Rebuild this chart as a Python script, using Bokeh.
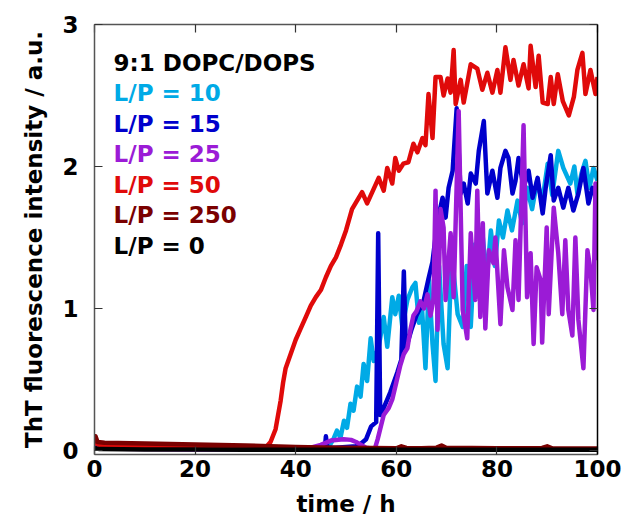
from bokeh.plotting import figure
from bokeh.models import LinearAxis, FixedTicker, Range1d
from bokeh.embed import file_html
from bokeh.resources import INLINE

# ---------------- data ----------------
x_ticks = [0, 20, 40, 60, 80, 100]
y_ticks = [0, 1, 2, 3]

legend_title = "9:1 DOPC/DOPS"
series_names = ["L/P = 10", "L/P = 15", "L/P = 25", "L/P = 50", "L/P = 250", "L/P = 0"]

t_lp10 = [0, 0.5, 5, 15, 25, 35, 42, 45, 46, 47, 47.5, 48.2, 48.9, 49.6, 50.2, 50.9, 51.5, 52.2, 52.9,
          53.5, 54.2, 54.9, 55.5, 56.5, 57.5, 58.2, 59.2, 59.8, 60.5, 61.2, 62.2, 63.2, 63.8, 64.5, 65.1,
          65.8, 66.5, 67.2, 67.8, 68.5, 69.4, 70.2, 71, 72.2, 73.2, 74, 74.8, 75.6, 76.4, 77.2, 78, 78.8,
          79.6, 80.4, 81.2, 82.1, 83, 84.1, 85, 86, 87, 88, 89, 90.1, 91, 92.2, 93.2, 94.6, 95.4, 96,
          96.8, 97.6, 98.4, 99.2, 100]
y_lp10 = [0.04, 0.02, 0.015, 0.012, 0.01, 0.01, 0.012, 0.015, 0.02, 0.05, 0.08, 0.14, 0.09, 0.21, 0.16,
          0.33, 0.28, 0.45, 0.38, 0.61, 0.49, 0.79, 0.63, 0.73, 0.94, 0.73, 1.08, 0.96, 1.09, 0.87, 1.06,
          1.15, 1.18, 0.9, 1.01, 0.58, 1.2, 0.75, 0.49, 1.3, 0.75, 0.58, 1.4, 0.96, 0.87, 1.3, 0.87, 1.45,
          1.1, 1.5, 1.2, 1.55, 1.3, 1.62, 1.5, 1.69, 1.55, 1.76, 1.6, 1.85, 1.7, 1.9, 1.75, 2.02, 1.8, 2.11,
          1.99, 1.88, 2.0, 1.81, 1.95, 2.04, 1.85, 1.99, 1.9]

t_lp15 = [0, 0.5, 10, 30, 44, 45.8, 46, 46.3, 48, 50, 52, 53, 54, 55, 56, 56.4, 56.8, 57.5, 58.8, 60.2,
          61, 61.5, 61.9, 63, 64, 65.4, 66.4, 67.2, 68.2, 69.2, 69.8, 70.4, 71.2, 72, 72.8, 73.4, 74.2,
          74.8, 75.8, 76.4, 77.4, 78.1, 79.1, 80.1, 80.7, 81.7, 82.3, 83.1, 83.7, 84.3, 85.3, 86.3, 87.1,
          88.1, 89.1, 89.7, 90.7, 91.3, 92.2, 93.2, 94.2, 95.2, 96.2, 97.2, 98.2, 99, 100]
y_lp15 = [0.03, 0.02, 0.015, 0.012, 0.012, 0.015, 0.1, 0.02, 0.02, 0.025, 0.03, 0.05, 0.08, 0.17, 0.2,
          1.53, 0.25, 0.3, 0.41, 0.55, 0.64, 1.26, 0.72, 0.85, 0.95, 1.05, 1.21, 1.33, 1.62, 1.78, 1.64,
          1.85, 1.97, 2.41, 1.81, 1.88, 1.74, 1.95, 1.88, 2.11, 2.32, 1.81, 1.97, 1.78, 1.99, 2.11, 2.06,
          1.81, 1.9, 2.06, 1.85, 1.97, 1.78, 1.92, 1.67, 1.85, 2.08, 1.76, 1.85, 1.71, 1.85, 1.69, 1.81,
          1.99, 1.74, 1.85, 1.76]

t_lp25 = [0, 0.5, 10, 20, 40, 43, 45, 47, 49.5, 51, 52, 53, 54, 55, 55.8, 56.3, 57, 57.5, 58.5, 59.2,
          60, 60.8, 61.5, 62.2, 62.8, 63.4, 64, 64.8, 65.5, 66.2, 66.8, 67.4, 67.8, 68.2, 68.8, 69.4, 69.8,
          70.8, 71.4, 72.4, 73.2, 74.1, 74.8, 75.7, 76.1, 76.7, 77.2, 77.7, 78.4, 79.3, 79.7, 80.7, 81.4,
          82.1, 83.1, 83.7, 84.3, 85.3, 86, 86.7, 87.3, 87.9, 88.7, 89, 89.9, 90.3, 91.3, 92.2, 93, 93.6,
          94.2, 95, 95.6, 96.2, 97.2, 98, 98.6, 99.2, 99.6, 100]
y_lp25 = [0.03, 0.015, 0.01, 0.008, 0.01, 0.02, 0.04, 0.07, 0.08, 0.075, 0.06, 0.04, 0.02, 0.015, 0.02,
          0.08, 0.18, 0.25, 0.3, 0.36, 0.48, 0.6, 0.68, 0.72, 0.85, 0.95, 0.98, 1.05, 1.0, 1.1, 0.95, 1.07,
          1.83, 0.85, 1.7, 1.57, 1.06, 1.53, 1.08, 2.39, 0.99, 0.79, 1.53, 1.06, 1.83, 0.94, 1.6, 0.86,
          1.41, 1.32, 1.5, 0.89, 1.41, 1.15, 0.99, 1.48, 1.06, 2.29, 1.08, 1.39, 0.75, 1.29, 1.2, 0.76,
          1.57, 0.96, 1.71, 1.39, 0.96, 1.48, 0.99, 0.81, 1.5, 0.92, 0.58, 1.41, 1.27, 0.99, 1.88, 1.34]

t_lp50 = [0, 0.3, 1, 5, 10, 15, 20, 25, 30, 33, 34, 35, 36, 37, 37.5, 38, 39, 40, 41, 42, 43, 44, 45,
          46, 47, 48, 49, 50, 51.2, 53.2, 54.2, 56.5, 57.5, 58.2, 59.2, 59.8, 60.5, 61.4, 62.4, 63.4, 64.2,
          65.2, 65.8, 66.4, 67.2, 67.8, 68.8, 69.4, 70.2, 70.8, 71.4, 71.8, 72.8, 73.4, 74.8, 76.1, 77.1,
          78.1, 79.1, 80.1, 80.7, 81.7, 82.7, 83.3, 84.3, 85.3, 86.3, 86.7, 87.7, 88.3, 89.1, 90.1, 90.7,
          91.3, 92.1, 93.1, 94.3, 95.3, 96, 97, 97.6, 98.6, 99.6, 100]
y_lp50 = [0.06, 0.05, 0.04, 0.035, 0.03, 0.025, 0.02, 0.02, 0.015, 0.015, 0.02, 0.06, 0.15, 0.35, 0.48,
          0.58, 0.68, 0.78, 0.86, 0.94, 1.02, 1.08, 1.13, 1.22, 1.3, 1.36, 1.45, 1.55, 1.7, 1.82, 1.74,
          1.92, 1.83, 1.99, 1.88, 2.06, 1.97, 2.02, 2.03, 2.16, 2.1, 2.2, 2.15, 2.51, 2.2, 2.63, 2.63, 2.5,
          2.62, 2.52, 2.82, 2.44, 2.61, 2.45, 2.72, 2.69, 2.54, 2.66, 2.52, 2.68, 2.52, 2.84, 2.61, 2.75,
          2.57, 2.72, 2.55, 2.85, 2.56, 2.78, 2.45, 2.44, 2.63, 2.44, 2.65, 2.46, 2.36, 2.49, 2.68, 2.8,
          2.51, 2.68, 2.51, 2.63]

t_lp250 = [0, 0.2, 0.6, 2, 10, 20, 30, 35, 40, 45, 50, 55, 60, 61, 62, 65, 68, 69, 70, 75, 80, 85, 89,
           90, 91, 95, 100]
y_lp250 = [0.05, 0.1, 0.06, 0.055, 0.05, 0.042, 0.035, 0.03, 0.025, 0.022, 0.02, 0.018, 0.016, 0.03,
           0.018, 0.016, 0.02, 0.035, 0.018, 0.017, 0.016, 0.016, 0.018, 0.03, 0.016, 0.015, 0.015]

t_lp0 = [0, 0.3, 1, 10, 20, 30, 40, 50, 60, 70, 80, 90, 100]
y_lp0 = [0.02, 0.015, 0.01, 0.008, 0.007, 0.006, 0.006, 0.005, 0.005, 0.005, 0.005, 0.005, 0.005]

colors = ["#00AAE6", "#0000CC", "#9B1BD6", "#E00A0A", "#7A0000", "#000000"]

# ---------------- figure ----------------
p = figure(frame_width=503, frame_height=430,
           x_range=Range1d(0, 100), y_range=Range1d(-0.028, 3.0),
           output_backend="svg", toolbar_location=None,
           min_border_left=94, min_border_right=25, min_border_top=24, min_border_bottom=10,
           x_axis_label="time / h", y_axis_label="ThT fluorescence intensity / a.u.")
p.grid.visible = False
p.outline_line_color = None
p.background_fill_color = "white"
p.border_fill_color = "white"

FONT = "DejaVu Sans"
FS = "23px"

def style_axis(ax, color, show_labels):
    ax.axis_line_color = color
    ax.axis_line_width = 1.5
    ax.major_tick_in = 8
    ax.major_tick_out = 0
    ax.major_tick_line_color = "#333333"
    ax.major_tick_line_width = 1.2
    ax.minor_tick_line_color = None
    ax.major_label_text_font = FONT
    ax.major_label_text_font_style = "bold"
    ax.major_label_text_color = "black"
    ax.axis_label_text_font = FONT
    ax.axis_label_text_font_style = "bold"
    ax.axis_label_text_font_size = FS
    ax.axis_label_text_color = "black"
    if show_labels:
        ax.major_label_text_font_size = FS
    else:
        ax.major_label_text_font_size = "1px"
        ax.major_label_text_color = None
        ax.major_label_standoff = 0

xa = p.xaxis[0]
ya = p.yaxis[0]
xa.ticker = FixedTicker(ticks=x_ticks)
ya.ticker = FixedTicker(ticks=y_ticks)
style_axis(xa, "#555555", True)
style_axis(ya, "#555555", True)
xa.major_label_standoff = 5
xa.axis_label_standoff = 11
ya.major_label_standoff = 16
ya.axis_label_standoff = 12

top_ax = LinearAxis(ticker=FixedTicker(ticks=x_ticks))
style_axis(top_ax, "#555555", False)
top_ax.major_label_overrides = {t: "" for t in x_ticks}
p.add_layout(top_ax, "above")
right_ax = LinearAxis(ticker=FixedTicker(ticks=y_ticks))
style_axis(right_ax, "#000000", False)
right_ax.major_label_overrides = {t: "" for t in y_ticks}
p.add_layout(right_ax, "right")

# ---------------- lines ----------------
series = [(t_lp10, y_lp10), (t_lp15, y_lp15), (t_lp25, y_lp25),
          (t_lp50, y_lp50), (t_lp250, y_lp250), (t_lp0, y_lp0)]
for (tt, yy), c in zip(series, colors):
    p.line(tt, yy, line_color=c, line_width=4.5, line_join="round")

# ---------------- legend text ----------------
leg_x = 3.8
px_per_unit = 430 / 3.028
y0 = 3.0 - (62 - 24) / px_per_unit
step = 30.5 / px_per_unit
legend_texts = [legend_title] + series_names
legend_colors = ["#000000"] + colors
for i, (txt, c) in enumerate(zip(legend_texts, legend_colors)):
    p.text(x=[leg_x], y=[y0 - i * step], text=[txt], text_color=c,
           text_font={"value": FONT}, text_font_style="bold", text_font_size=FS,
           text_baseline="middle", text_align="left")

open("out.html", "w").write(file_html(p, INLINE))
